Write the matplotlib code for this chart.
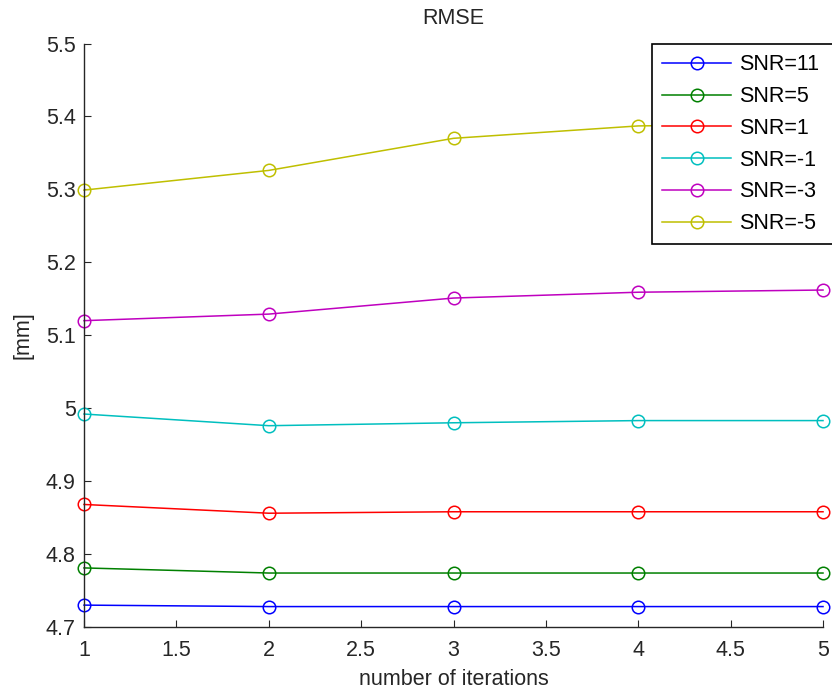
import matplotlib
matplotlib.use("Agg")
import matplotlib.pyplot as plt

plt.rcParams['font.family'] = ['Liberation Sans', 'DejaVu Sans']

iterations = [1, 2, 3, 4, 5]
snr_labels = ['SNR=11', 'SNR=5', 'SNR=1', 'SNR=-1', 'SNR=-3', 'SNR=-5']
rmse_snr11 = [4.730, 4.728, 4.728, 4.728, 4.728]
rmse_snr5 = [4.781, 4.774, 4.774, 4.774, 4.774]
rmse_snr1 = [4.868, 4.856, 4.858, 4.858, 4.858]
rmse_snrm1 = [4.992, 4.976, 4.980, 4.983, 4.983]
rmse_snrm3 = [5.120, 5.129, 5.151, 5.159, 5.162]
rmse_snrm5 = [5.299, 5.326, 5.370, 5.387, 5.390]

x_ticks = [1, 1.5, 2, 2.5, 3, 3.5, 4, 4.5, 5]
x_ticklabels = ['1', '1.5', '2', '2.5', '3', '3.5', '4', '4.5', '5']
y_ticks = [4.7, 4.8, 4.9, 5.0, 5.1, 5.2, 5.3, 5.4, 5.5]
y_ticklabels = ['4.7', '4.8', '4.9', '5', '5.1', '5.2', '5.3', '5.4', '5.5']

# old matlab line colours b, g, r, c, m, y
colors = ['#0000ff', '#008000', '#ff0000', '#00bfbf', '#bf00bf', '#bfbf00']
series = [rmse_snr11, rmse_snr5, rmse_snr1, rmse_snrm1, rmse_snrm3, rmse_snrm5]

W, H = 832, 690
fig = plt.figure(figsize=(W / 100, H / 100), dpi=100)
ax = fig.add_axes([84 / W, (H - 627) / H, (823 - 84) / W, (627 - 43.5) / H])

for vals, c, lab in zip(series, colors, snr_labels):
    ax.plot(iterations, vals, '-o', color=c, lw=1.1, ms=9, mfc='none', mew=1.1,
            label=lab, clip_on=False)

ax.set_xlim(1, 5)
ax.set_ylim(4.7, 5.5)
ax.set_xticks(x_ticks)
ax.set_xticklabels(x_ticklabels)
ax.set_yticks(y_ticks)
ax.set_yticklabels(y_ticklabels)
ax.tick_params(direction='in', length=5.3, width=0.8, labelsize=15.5,
               colors='#262626')
ax.tick_params(axis='x', pad=9)
ax.tick_params(axis='y', pad=6)
ax.spines['top'].set_visible(False)
ax.spines['right'].set_visible(False)
for s in ['left', 'bottom']:
    ax.spines[s].set_linewidth(1)
    ax.spines[s].set_color('#262626')

ax.set_title('RMSE', fontsize=15.5, pad=14, color='#262626')
ax.set_xlabel('number of iterations', fontsize=15.5, labelpad=6, color='#262626')
ax.set_ylabel('[mm]', fontsize=15.5, labelpad=9, color='#262626')

# opaque legend box runs past the right edge and hides the last SNR=-5 point
leg = ax.legend(loc='upper left', bbox_to_anchor=(652 / W, 0, 190 / W, 1 - 44 / H),
                bbox_transform=fig.transFigure, mode='expand', fontsize=15.5,
                frameon=True, fancybox=False, framealpha=1, handlelength=3.2,
                handletextpad=0.35, labelspacing=0.5, borderpad=0.48,
                borderaxespad=0)
leg.get_frame().set_edgecolor('black')
leg.get_frame().set_linewidth(1.2)
leg.set_zorder(5)

fig.savefig('out.png', dpi=100, facecolor='white')
